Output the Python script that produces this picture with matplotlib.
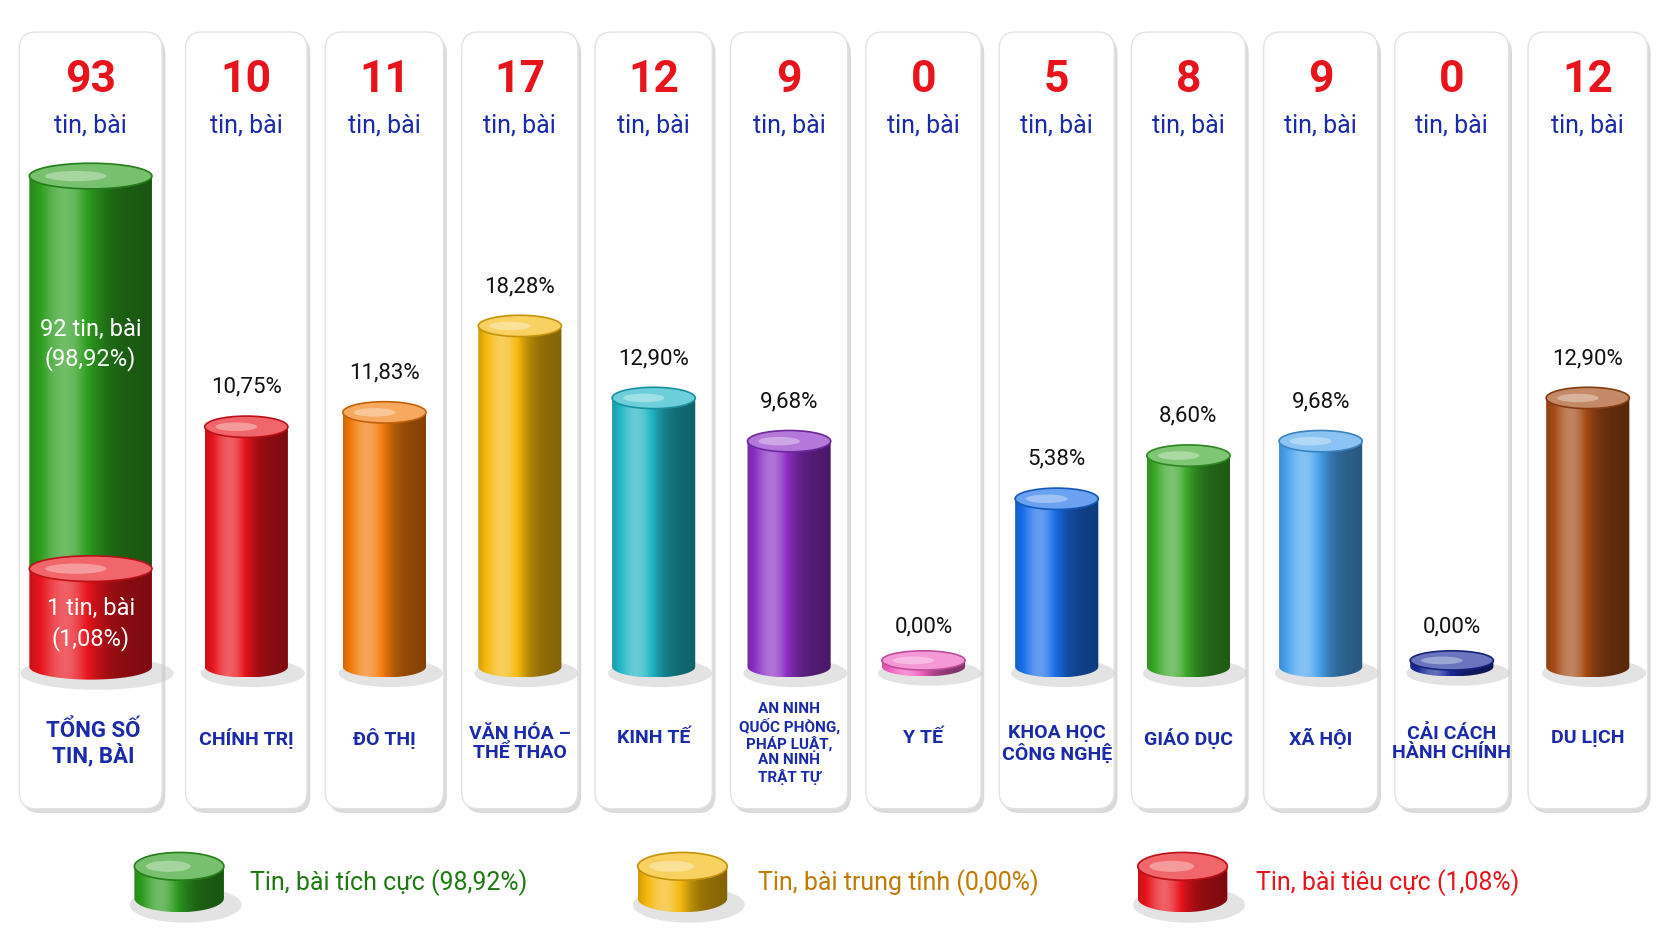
import numpy as np
import matplotlib
matplotlib.use("Agg")
import matplotlib.pyplot as plt
from matplotlib.patches import FancyBboxPatch, Ellipse, PathPatch
from matplotlib.path import Path
import matplotlib.colors as mc

categories = ["TỔNG SỐ\nTIN, BÀI", "CHÍNH TRỊ", "ĐÔ THỊ", "VĂN HÓA –\nTHỂ THAO", "KINH TẾ",
              "AN NINH\nQUỐC PHÒNG,\nPHÁP LUẬT,\nAN NINH\nTRẬT TỰ", "Y TẾ", "KHOA HỌC\nCÔNG NGHỆ",
              "GIÁO DỤC", "XÃ HỘI", "CẢI CÁCH\nHÀNH CHÍNH", "DU LỊCH"]
counts = [93, 10, 11, 17, 12, 9, 0, 5, 8, 9, 0, 12]
percents = ["", "10,75%", "11,83%", "18,28%", "12,90%", "9,68%", "0,00%", "5,38%", "8,60%", "9,68%", "0,00%", "12,90%"]
colors = ["#2e9e1f", "#e8141c", "#f27a0a", "#f4b80c", "#1fb5c4", "#8a2fc4", "#f060c0", "#1a6ee8",
          "#3aa828", "#4aa4ee", "#1a2a9a", "#a44a14"]
positive, neutral, negative = 92, 0, 1
pos_pct, neu_pct, neg_pct = "98,92%", "0,00%", "1,08%"
legend_labels = [f"Tin, bài tích cực ({pos_pct})", f"Tin, bài trung tính ({neu_pct})", f"Tin, bài tiêu cực ({neg_pct})"]
legend_colors = ["#2e9e1f", "#f4b80c", "#e8141c"]
legend_text_colors = ["#1e7a10", "#c07a00", "#e8141c"]

FONT = ["Roboto", "DejaVu Sans"]
panels = [(18, 152), (174, 288), (305, 416), (433, 542), (558, 668), (685, 795), (812, 920),
          (937, 1045), (1061, 1168), (1185, 1292), (1308, 1415), (1433, 1545)]

fig = plt.figure(figsize=(16.72, 9.41), dpi=100)
ax = fig.add_axes([0, 0, 1, 1])
ax.set_xlim(0, 1568); ax.set_ylim(882, 0); ax.axis("off")

def grad_img(color):
    c = np.array(mc.to_rgb(color))
    xs = np.linspace(0, 1, 200)
    b = 0.72 + 0.6 * np.exp(-((xs - 0.3) / 0.25) ** 2) - 0.18 * xs
    img = np.empty((2, 200, 3))
    for i, v in enumerate(b):
        col = c * v if v <= 1 else c + (1 - c) * (v - 1) * 1.2
        img[:, i] = np.clip(col, 0, 1)
    return img

def cyl(xc, w, ybot, ytop, color, eh=20, shadow=True):
    l, r = xc - w / 2, xc + w / 2
    if shadow:
        ax.add_patch(Ellipse((xc + 6, ybot + 6), w * 1.25, eh * 1.3, color="#c8c8c8", alpha=0.5, zorder=2, lw=0))
    t = np.linspace(0, np.pi, 40)
    verts = [(l, ytop), (r, ytop)] + [(xc + w / 2 * np.cos(a), ybot + eh / 2 * np.sin(a)) for a in t] + [(l, ytop)]
    patch = PathPatch(Path(verts), facecolor="none", edgecolor="none", zorder=3)
    ax.add_patch(patch)
    im = ax.imshow(grad_img(color), extent=(l, r, ybot + eh / 2, ytop), aspect="auto", zorder=3)
    im.set_clip_path(patch)
    c = np.array(mc.to_rgb(color))
    top = np.clip(c + (1 - c) * 0.35, 0, 1)
    ax.add_patch(Ellipse((xc, ytop), w, eh, facecolor=top, edgecolor=np.clip(c * 0.8, 0, 1), lw=1.2, zorder=4))
    ax.add_patch(Ellipse((xc - w * 0.12, ytop), w * 0.5, eh * 0.4, facecolor="white", alpha=0.35, lw=0, zorder=4))

base = 625
for i, (l, r) in enumerate(panels):
    ax.add_patch(FancyBboxPatch((l + 3, 34), r - l, 728, boxstyle="round,pad=0,rounding_size=16",
                                facecolor="#dadada", edgecolor="none", zorder=0))
    ax.add_patch(FancyBboxPatch((l, 30), r - l, 728, boxstyle="round,pad=0,rounding_size=16",
                                facecolor="white", edgecolor="#e2e2e2", lw=1, zorder=1))
    xc = (l + r) / 2
    ax.text(xc, 75, str(counts[i]), color="#e8141c", fontsize=32, fontweight="bold", ha="center", va="center", family=FONT, zorder=5)
    ax.text(xc, 118, "tin, bài", color="#1a2aa8", fontsize=18, ha="center", va="center", family=FONT, zorder=5)
    small = i == 5
    yl = 697 if ("\n" in categories[i]) else 692
    fs = 11 if small else (16 if i == 0 else 14)
    ax.text(xc + (2 if i == 0 else 0), yl, categories[i], color="#1a2aa8", fontsize=fs,
            fontweight="bold", ha="center", va="center", family=FONT, linespacing=1.1 if not small else 1.12, zorder=5)
    if i == 0:
        h_tot = 460
        h_neg = max(negative / counts[0], 0.2) * h_tot
        cyl(xc, 115, base, base - h_neg, "#e8141c", eh=24)
        cyl(xc, 115, base - h_neg - 2, base - h_tot, "#2e9e1f", eh=24, shadow=False)
        ax.text(xc, 323, f"{positive} tin, bài\n({pos_pct})", color="white", fontsize=17, ha="center", va="center",
                family=FONT, zorder=6, linespacing=1.3)
        ax.text(xc, 585, f"{negative} tin, bài\n({neg_pct})", color="white", fontsize=17, ha="center", va="center",
                family=FONT, zorder=6, linespacing=1.3)
        continue
    v = counts[i]
    h = 90 + 13.5 * v if v > 0 else 0
    if v > 0:
        cyl(xc, 78, base, base - h, colors[i])
    else:
        cyl(xc, 78, base, base - 6, colors[i], eh=18)
    ax.text(xc, base - h - 37, percents[i], color="#111111", fontsize=16, ha="center", va="center", family=FONT, zorder=5)

lx = [168, 640, 1109]
tx = [234, 711, 1178]
for j in range(3):
    cyl(lx[j], 84, 842, 812, legend_colors[j], eh=26)
    ax.text(tx[j], 827, legend_labels[j], color=legend_text_colors[j], fontsize=18, ha="left", va="center",
            family=FONT, zorder=5)

fig.savefig("out.png", dpi=100, facecolor="white")
